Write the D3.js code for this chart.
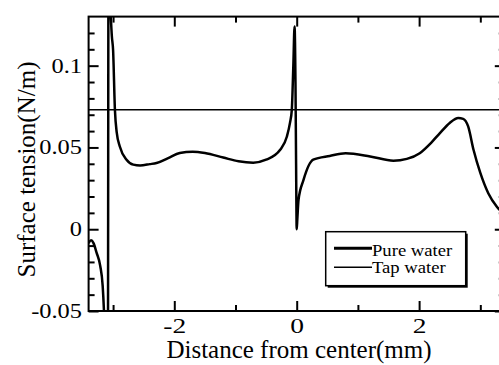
<!DOCTYPE html>
<html>
<head>
<meta charset="utf-8">
<script src="https://cdn.jsdelivr.net/npm/d3@7"></script>
<style>
  html, body { margin: 0; padding: 0; background: #fff; }
</style>
</head>
<body>
<div id="chart"></div>
<script>
// axis ranges and ticks
const xDomain = [-3.4, 3.4];
const yDomain = [-0.05, 0.13];
const xMajorTicks = [-2, 0, 2];
const xMinorTicks = [-3, -1, 1, 3];
const yMajorTicks = [-0.05, 0, 0.05, 0.1];
const yMinorTicks = [-0.04, -0.03, -0.02, -0.01, 0.01, 0.02, 0.03, 0.04, 0.06, 0.07, 0.08, 0.09, 0.11, 0.12];

// pure water
const pureX = [-3.40, -3.36, -3.32, -3.27, -3.21, -3.17, -3.15, -3.13, -3.085, -3.075, -3.05, -3.02, -3.00, -2.97, -2.94, -2.89, -2.78, -2.67, -2.56, -2.40, -2.29, -2.10, -1.91, -1.70, -1.50, -1.20, -0.95, -0.71, -0.50, -0.27, -0.16, -0.11, -0.08, -0.055, -0.035, -0.02, -0.01, 0.0, 0.01, 0.03, 0.11, 0.27, 0.54, 0.80, 1.20, 1.58, 1.80, 2.01, 2.20, 2.34, 2.50, 2.64, 2.72, 2.80, 2.89, 3.00, 3.13, 3.27, 3.40];
const pureY = [-0.0085, -0.0068, -0.0085, -0.0143, -0.0224, -0.0346, -0.049, -0.07, -0.09, 0.16, 0.14, 0.118, 0.1096, 0.073, 0.059, 0.0506, 0.0425, 0.0395, 0.039, 0.0398, 0.0405, 0.0435, 0.0466, 0.0474, 0.0466, 0.0438, 0.0415, 0.0407, 0.0425, 0.0486, 0.0567, 0.065, 0.073, 0.1, 0.124, 0.09, 0.04, 0.0, 0.006, 0.018, 0.030, 0.0425, 0.0448, 0.0464, 0.0445, 0.0419, 0.043, 0.0465, 0.053, 0.0588, 0.065, 0.068, 0.0675, 0.063, 0.0484, 0.0344, 0.022, 0.0138, 0.009];

// tap water
const tapX = [-3.4, 3.4];
const tapY = [0.073, 0.073];

const seriesNames = ["Pure water", "Tap water"];

const width = 499, height = 365;
const margin = { left: 88.6, top: 16.6, right: 504.8, bottom: 311 };
const serif = '"Liberation Serif", "Times New Roman", serif';

const svg = d3.select("#chart").append("svg")
    .attr("width", width)
    .attr("height", height)
    .style("display", "block");

const x = d3.scaleLinear().domain(xDomain).range([margin.left, margin.right]);
const y = d3.scaleLinear().domain(yDomain).range([margin.bottom, margin.top]);

svg.append("defs").append("clipPath").attr("id", "plot-clip")
    .append("rect")
    .attr("x", margin.left).attr("y", margin.top)
    .attr("width", margin.right - margin.left)
    .attr("height", margin.bottom - margin.top);

// stretch a text a bit wider, like the source bitmap font
function widen(sel, k) {
    sel.each(function () {
        const w = this.getComputedTextLength();
        d3.select(this).attr("textLength", w * k).attr("lengthAdjust", "spacingAndGlyphs");
    });
}

function styleAxis(g) {
    g.attr("font-family", null);
    g.select(".domain").remove();
    g.selectAll(".tick line").attr("stroke", "#000").attr("stroke-width", 2);
}

const fmtTick = d => d === 0 ? "0" : String(+d.toFixed(2));

// bottom / top
svg.append("g").attr("transform", `translate(0,${margin.bottom})`)
    .call(d3.axisBottom(x).tickValues(xMinorTicks).tickSize(-6).tickFormat(""))
    .call(styleAxis);
const xAxisG = svg.append("g").attr("transform", `translate(0,${margin.bottom})`)
    .call(d3.axisBottom(x).tickValues(xMajorTicks).tickSize(-10).tickFormat(fmtTick))
    .call(styleAxis);
xAxisG.selectAll("text")
    .attr("y", 22.3).attr("dy", 0)
    .attr("fill", "#000")
    .style("font-family", serif)
    .style("font-size", "22px")
    .call(widen, 1.25);

svg.append("g").attr("transform", `translate(0,${margin.top})`)
    .call(d3.axisTop(x).tickValues(xMinorTicks).tickSize(-6).tickFormat(""))
    .call(styleAxis);
svg.append("g").attr("transform", `translate(0,${margin.top})`)
    .call(d3.axisTop(x).tickValues(xMajorTicks).tickSize(-10).tickFormat(""))
    .call(styleAxis);

// left / right
svg.append("g").attr("transform", `translate(${margin.left},0)`)
    .call(d3.axisLeft(y).tickValues(yMinorTicks).tickSize(-6).tickFormat(""))
    .call(styleAxis);
const yAxisG = svg.append("g").attr("transform", `translate(${margin.left},0)`)
    .call(d3.axisLeft(y).tickValues(yMajorTicks).tickSize(-10).tickFormat(fmtTick))
    .call(styleAxis);
yAxisG.selectAll("text")
    .attr("x", -6.6).attr("dy", "0.32em")
    .attr("fill", "#000")
    .style("font-family", serif)
    .style("font-size", "20px")
    .call(widen, 1.22);

svg.append("g").attr("transform", `translate(${margin.right},0)`)
    .call(d3.axisRight(y).tickValues(yMinorTicks).tickSize(-6).tickFormat(""))
    .call(styleAxis);
svg.append("g").attr("transform", `translate(${margin.right},0)`)
    .call(d3.axisRight(y).tickValues(yMajorTicks).tickSize(-10).tickFormat(""))
    .call(styleAxis);

// plot frame
svg.append("rect")
    .attr("x", margin.left).attr("y", margin.top)
    .attr("width", margin.right - margin.left)
    .attr("height", margin.bottom - margin.top)
    .attr("fill", "none")
    .attr("stroke", "#000")
    .attr("stroke-width", 2);

// lines
const plot = svg.append("g").attr("clip-path", "url(#plot-clip)");

const tapLine = d3.line().x(d => x(d[0])).y(d => y(d[1]));
plot.append("path")
    .datum(d3.zip(tapX, tapY))
    .attr("d", tapLine)
    .attr("fill", "none")
    .attr("stroke", "#000")
    .attr("stroke-width", 1.5);

const pureLine = d3.line().x(d => x(d[0])).y(d => y(d[1])).curve(d3.curveMonotoneX);
plot.append("path")
    .datum(d3.zip(pureX, pureY))
    .attr("d", pureLine)
    .attr("fill", "none")
    .attr("stroke", "#000")
    .attr("stroke-width", 2.5)
    .attr("stroke-linejoin", "round");

// axis titles
svg.append("text")
    .attr("x", 299).attr("y", 358)
    .attr("text-anchor", "middle")
    .style("font-family", serif)
    .style("font-size", "25px")
    .text("Distance from center(mm)");

svg.append("text")
    .attr("transform", "translate(35,169.5) rotate(-90)")
    .attr("text-anchor", "middle")
    .style("font-family", serif)
    .style("font-size", "25px")
    .text("Surface tension(N/m)");

// legend
const legend = svg.append("g");
legend.append("rect")
    .attr("x", 327.7).attr("y", 233.7).attr("width", 140).attr("height", 54)
    .attr("fill", "#000");
legend.append("rect")
    .attr("x", 325.7).attr("y", 231.7).attr("width", 140).attr("height", 54)
    .attr("fill", "#fff").attr("stroke", "#000").attr("stroke-width", 1.5);

const legendRows = [
    { name: seriesNames[0], lineY: 248.3, textY: 256, w: 3 },
    { name: seriesNames[1], lineY: 267.3, textY: 273.3, w: 1.5 }
];
legendRows.forEach(r => {
    legend.append("line")
        .attr("x1", 334).attr("x2", 372)
        .attr("y1", r.lineY).attr("y2", r.lineY)
        .attr("stroke", "#000").attr("stroke-width", r.w);
    legend.append("text")
        .attr("x", 372).attr("y", r.textY)
        .style("font-family", serif)
        .style("font-size", "16.5px")
        .text(r.name)
        .call(widen, 1.13);
});
</script>
</body>
</html>
